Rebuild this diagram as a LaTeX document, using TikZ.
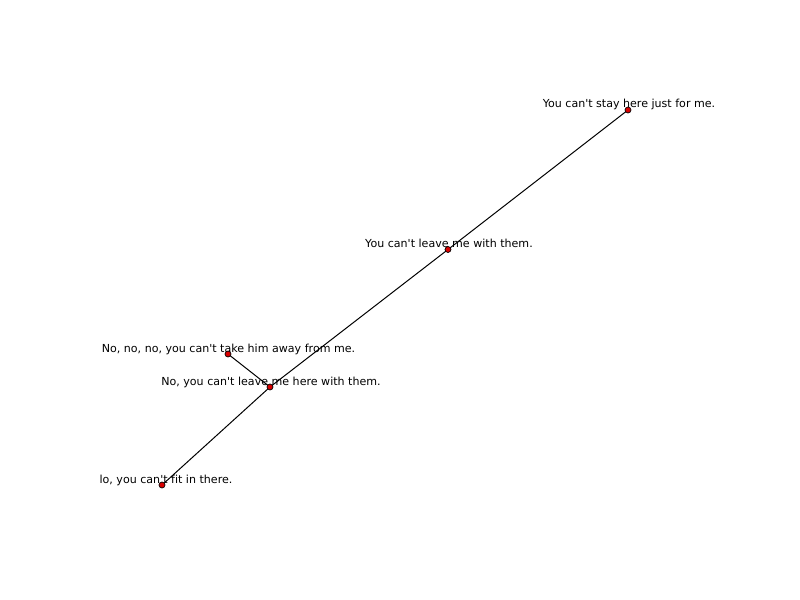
\documentclass[tikz,border=0pt]{standalone}
\usepackage{fontspec}
\setmainfont{DejaVu Sans}[Ligatures={NoCommon}]
\newcommand{\qs}{\textquotesingle}
\begin{document}
\begin{tikzpicture}[x=0.72bp,y=-0.72bp,
  dot/.style={circle,draw=black,fill=red!85!black,line width=0.5pt,inner sep=0pt,minimum size=4.3bp},
  lbl/.style={anchor=base,inner sep=0pt,font=\fontsize{8}{9.6}\selectfont},
  edge/.style={draw=black,line width=0.72pt}]
\useasboundingbox (0,0) rectangle (800,600);
\coordinate (a) at (628,110);
\coordinate (b) at (448,249.5);
\coordinate (c) at (270,387);
\coordinate (d) at (228,354);
\coordinate (e) at (162,485);
\draw[edge] (a) -- (b);
\draw[edge] (b) -- (c);
\draw[edge] (c) -- (d);
\draw[edge] (c) -- (e);
\node[lbl] (la) at (629,108) {You can\qs t stay here just for me.};
\node[lbl] (lb) at (449,247.5) {You can\qs t leave me with them.};
\node[lbl] (lc) at (271,385) {No, you can\qs t leave me here with them.};
\node[lbl] (ld) at (228.5,352) {No, no, no, you can\qs t take him away from me.};
\node[lbl] (le) at (166,483) {lo, you can\qs t fit in there.};
\node[dot] (na) at (a) {};
\node[dot] (nb) at (b) {};
\node[dot] (nc) at (c) {};
\node[dot] (nd) at (d) {};
\node[dot] (ne) at (e) {};
\end{tikzpicture}
\end{document}
